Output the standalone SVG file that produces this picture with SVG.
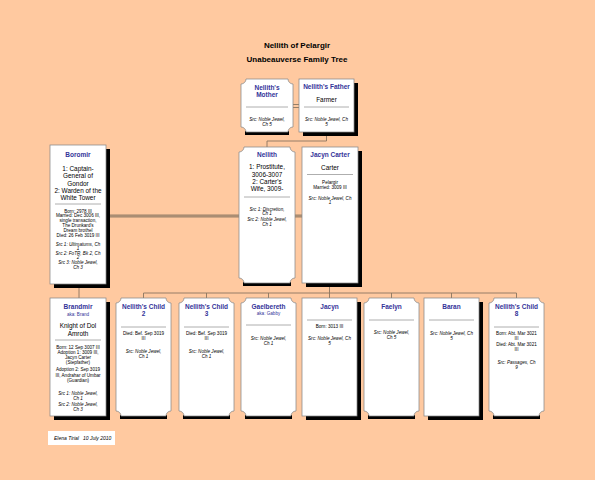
<svg xmlns="http://www.w3.org/2000/svg" width="595" height="480" viewBox="0 0 595 480">
<style>
text{font-family:"Liberation Sans",Arial,sans-serif;text-anchor:middle;fill:#000}
.t{font-size:8px;font-weight:bold}
.n{font-size:6.5px;font-weight:bold;fill:#333399}
.o{font-size:6.4px}
.s{font-size:4.6px}
.i{font-size:4.6px;font-style:italic}
.a{font-size:4.6px;fill:#333399}
.box{fill:#fff;stroke:#888;stroke-width:0.75}
.sh{fill:#000}
.dv{stroke:#999;stroke-width:0.8}
.ln{stroke:#8a7560;stroke-width:0.9;fill:none}
.mar{stroke:#9c8269;stroke-width:3;fill:none}
.mar2{stroke:#c09f84;stroke-width:0.8;fill:none}
</style>
<rect width="595" height="480" fill="#FFC9A0"/>
<text class="t" x="297" y="48">Nellith of Pelargir</text>
<text class="t" x="297" y="62">Unabeauverse Family Tree</text>

<g id="connectors">
<line class="ln" x1="293" y1="104.5" x2="299" y2="104.5"/>
<line class="ln" x1="293" y1="107.5" x2="299" y2="107.5"/>
<polyline class="ln" points="326.5,132 326.5,141 267,141 267,147"/>
<line class="mar" x1="106" y1="216" x2="239" y2="216"/>
<line class="mar2" x1="106" y1="216" x2="239" y2="216"/>
<line class="mar" x1="295" y1="216" x2="302" y2="216"/>
<line class="mar2" x1="295" y1="216" x2="302" y2="216"/>
<line class="ln" x1="79" y1="284" x2="79" y2="298"/>
<line class="ln" x1="329.5" y1="283" x2="329.5" y2="293"/>
<line class="ln" x1="143.5" y1="293" x2="516.5" y2="293"/>
<line class="ln" x1="143.5" y1="293" x2="143.5" y2="298"/>
<line class="ln" x1="206.5" y1="293" x2="206.5" y2="298"/>
<line class="ln" x1="268.5" y1="293" x2="268.5" y2="298"/>
<line class="ln" x1="329.5" y1="293" x2="329.5" y2="298"/>
<line class="ln" x1="391.5" y1="293" x2="391.5" y2="298"/>
<line class="ln" x1="451.5" y1="293" x2="451.5" y2="298"/>
<line class="ln" x1="516.5" y1="293" x2="516.5" y2="298"/>
</g>

<g id="mother">
<rect class="sh" x="245" y="131" width="44" height="4"/>
<path class="box" d="M246,79 H288 A5,5 0 0 0 293,84 V127 A5,5 0 0 0 288,132 H246 A5,5 0 0 0 241,127 V84 A5,5 0 0 0 246,79 Z"/>
<text class="n" x="267" y="89.5">Nellith's</text>
<text class="n" x="267" y="96.5">Mother</text>
<line class="dv" x1="246" y1="107" x2="288" y2="107"/>
<text class="i" x="267" y="120.5">Src: Noble Jewel,</text>
<text class="i" x="267" y="125.5">Ch 5</text>
</g>

<g id="father">
<rect class="sh" x="303" y="83" width="55" height="53"/>
<rect class="box" x="299" y="79" width="55" height="53"/>
<text class="n" x="326.5" y="88.5">Nellith's Father</text>
<text class="o" x="326.5" y="102">Farmer</text>
<line class="dv" x1="304" y1="107" x2="349" y2="107"/>
<text class="i" x="326.5" y="120.5">Src: Noble Jewel, Ch</text>
<text class="i" x="326.5" y="125.5">5</text>
</g>

<g id="boromir">
<rect class="sh" x="54" y="149" width="56" height="139"/>
<rect class="box" x="50" y="145" width="56" height="139"/>
<text class="n" x="78" y="157.3">Boromir</text>
<text class="o" x="78" y="171">1: Captain-</text>
<text class="o" x="78" y="178.3">General of</text>
<text class="o" x="78" y="185.6">Gondor</text>
<text class="o" x="78" y="192.9">2: Warden of the</text>
<text class="o" x="78" y="200.2">White Tower</text>
<line class="dv" x1="55" y1="204" x2="101" y2="204"/>
<text class="s" x="78" y="212.6">Born: 2978 III</text>
<text class="s" x="78" y="217.4">Married: Dec 3006 III,</text>
<text class="s" x="78" y="222.2">single transaction,</text>
<text class="s" x="78" y="227">The Drunkard's</text>
<text class="s" x="78" y="231.8">Dream brothel</text>
<text class="s" x="78" y="236.6">Died: 26 Feb 3019 III</text>
<text class="i" x="78" y="245.6">Src 1: Ultimatums, Ch</text>
<text class="i" x="78" y="250.2">1</text>
<text class="i" x="78" y="254.8">Src 2: FoTR, Bk 2, Ch</text>
<text class="i" x="78" y="259.4">2</text>
<text class="i" x="78" y="264">Src 3: Noble Jewel,</text>
<text class="i" x="78" y="268.6">Ch 3</text>
</g>

<g id="nellith">
<rect class="sh" x="243" y="282" width="48" height="4"/>
<path class="box" d="M244,147 H290 A5,5 0 0 0 295,152 V278 A5,5 0 0 0 290,283 H244 A5,5 0 0 0 239,278 V152 A5,5 0 0 0 244,147 Z"/>
<text class="n" x="267" y="157.3">Nellith</text>
<text class="o" x="267" y="169.2">1: Prostitute,</text>
<text class="o" x="267" y="176.5">3006-3007</text>
<text class="o" x="267" y="183.8">2: Carter's</text>
<text class="o" x="267" y="191.1">Wife, 3009-</text>
<line class="dv" x1="244" y1="197" x2="290" y2="197"/>
<text class="i" x="267" y="210.6">Src 1: Discretion,</text>
<text class="i" x="267" y="215.4">Ch 1</text>
<text class="i" x="267" y="220.8">Src 2: Noble Jewel,</text>
<text class="i" x="267" y="225.6">Ch 1</text>
</g>

<g id="jacyn-carter">
<rect class="sh" x="306" y="151" width="56" height="136"/>
<rect class="box" x="302" y="147" width="56" height="136"/>
<text class="n" x="330" y="157.3">Jacyn Carter</text>
<text class="o" x="330" y="170.2">Carter</text>
<line class="dv" x1="307" y1="174.5" x2="353" y2="174.5"/>
<text class="s" x="330" y="183.6">Pelargir</text>
<text class="s" x="330" y="188.6">Married: 3009 III</text>
<text class="i" x="330" y="199.6">Src: Noble Jewel, Ch</text>
<text class="i" x="330" y="204.4">1</text>
</g>

<g id="brandmir">
<rect class="sh" x="54" y="302" width="56" height="118"/>
<rect class="box" x="50" y="298" width="56" height="118"/>
<text class="n" x="78" y="309.3">Brandmir</text>
<text class="a" x="78" y="315.6">aka: Brand</text>
<text class="o" x="78" y="328.2">Knight of Dol</text>
<text class="o" x="78" y="335.5">Amroth</text>
<line class="dv" x1="55" y1="340" x2="101" y2="340"/>
<text class="s" x="78" y="348.9">Born: 12 Sep 3007 III</text>
<text class="s" x="78" y="353.9">Adoption 1: 3009 III,</text>
<text class="s" x="78" y="359.1">Jacyn Carter</text>
<text class="s" x="78" y="364.1">(Stepfather)</text>
<text class="s" x="78" y="371.4">Adoption 2: Sep 3019</text>
<text class="s" x="78" y="377">III, Andrahar of Umbar</text>
<text class="s" x="78" y="382.4">(Guardian)</text>
<text class="i" x="78" y="395">Src 1: Noble Jewel,</text>
<text class="i" x="78" y="400">Ch 1</text>
<text class="i" x="78" y="406">Src 2: Noble Jewel,</text>
<text class="i" x="78" y="411">Ch 3</text>
</g>

<g id="child2">
<rect class="sh" x="120" y="415" width="47" height="4"/>
<path class="box" d="M121,298 H166 A5,5 0 0 0 171,303 V411 A5,5 0 0 0 166,416 H121 A5,5 0 0 0 116,411 V303 A5,5 0 0 0 121,298 Z"/>
<text class="n" x="143.5" y="309.3">Nellith's Child</text>
<text class="n" x="143.5" y="316.3">2</text>
<line class="dv" x1="121" y1="327" x2="166" y2="327"/>
<text class="s" x="143.5" y="334.9">Died: Bef. Sep 3019</text>
<text class="s" x="143.5" y="339.9">III</text>
<text class="i" x="143.5" y="352.6">Src: Noble Jewel,</text>
<text class="i" x="143.5" y="358">Ch 1</text>
</g>

<g id="child3">
<rect class="sh" x="183" y="415" width="47" height="4"/>
<path class="box" d="M184,298 H229 A5,5 0 0 0 234,303 V411 A5,5 0 0 0 229,416 H184 A5,5 0 0 0 179,411 V303 A5,5 0 0 0 184,298 Z"/>
<text class="n" x="206.5" y="309.3">Nellith's Child</text>
<text class="n" x="206.5" y="316.3">3</text>
<line class="dv" x1="184" y1="327" x2="229" y2="327"/>
<text class="s" x="206.5" y="334.9">Died: Bef. Sep 3019</text>
<text class="s" x="206.5" y="339.9">III</text>
<text class="i" x="206.5" y="352.6">Src: Noble Jewel,</text>
<text class="i" x="206.5" y="358">Ch 1</text>
</g>

<g id="gaelbereth">
<rect class="sh" x="245" y="415" width="47" height="4"/>
<path class="box" d="M246,298 H291 A5,5 0 0 0 296,303 V411 A5,5 0 0 0 291,416 H246 A5,5 0 0 0 241,411 V303 A5,5 0 0 0 246,298 Z"/>
<text class="n" x="268.5" y="309.3">Gaelbereth</text>
<text class="a" x="268.5" y="314.8">aka: Gabby</text>
<line class="dv" x1="246" y1="325" x2="291" y2="325"/>
<text class="i" x="268.5" y="339.6">Src: Noble Jewel,</text>
<text class="i" x="268.5" y="344.6">Ch 1</text>
</g>

<g id="jacyn">
<rect class="sh" x="306" y="302" width="55" height="118"/>
<rect class="box" x="302" y="298" width="55" height="118"/>
<text class="n" x="329.5" y="309.3">Jacyn</text>
<line class="dv" x1="307" y1="320" x2="352" y2="320"/>
<text class="s" x="329.5" y="327.6">Born: 3013 III</text>
<text class="i" x="329.5" y="339.6">Src: Noble Jewel, Ch</text>
<text class="i" x="329.5" y="344.6">5</text>
</g>

<g id="faelyn">
<rect class="sh" x="368" y="415" width="47" height="4"/>
<path class="box" d="M369,298 H414 A5,5 0 0 0 419,303 V411 A5,5 0 0 0 414,416 H369 A5,5 0 0 0 364,411 V303 A5,5 0 0 0 369,298 Z"/>
<text class="n" x="391.5" y="309.3">Faelyn</text>
<line class="dv" x1="369" y1="320" x2="414" y2="320"/>
<text class="i" x="391.5" y="333.9">Src: Noble Jewel,</text>
<text class="i" x="391.5" y="339">Ch 5</text>
</g>

<g id="baran">
<rect class="sh" x="428" y="302" width="55" height="118"/>
<rect class="box" x="424" y="298" width="55" height="118"/>
<text class="n" x="451.5" y="309.3">Baran</text>
<line class="dv" x1="429" y1="320" x2="474" y2="320"/>
<text class="i" x="451.5" y="334.6">Src: Noble Jewel, Ch</text>
<text class="i" x="451.5" y="339.6">5</text>
</g>

<g id="child8">
<rect class="sh" x="493" y="415" width="47" height="4"/>
<path class="box" d="M494,298 H539 A5,5 0 0 0 544,303 V411 A5,5 0 0 0 539,416 H494 A5,5 0 0 0 489,411 V303 A5,5 0 0 0 494,298 Z"/>
<text class="n" x="516.5" y="309.3">Nellith's Child</text>
<text class="n" x="516.5" y="315.8">8</text>
<line class="dv" x1="494" y1="327" x2="539" y2="327"/>
<text class="s" x="516.5" y="334.9">Born: Abt. Mar 3021</text>
<text class="s" x="516.5" y="339.9">III</text>
<text class="s" x="516.5" y="345.9">Died: Abt. Mar 3021</text>
<text class="s" x="516.5" y="351.3">III</text>
<text class="i" x="516.5" y="363.9">Src: Passages, Ch</text>
<text class="i" x="516.5" y="368.9">9</text>
</g>

<g id="footer">
<rect x="48" y="431" width="67" height="14" fill="#fff"/>
<text class="i" style="font-size:5px;text-anchor:start" x="54" y="440">Elena Tirial</text>
<text class="i" style="font-size:5px;text-anchor:start" x="83" y="440">10 July 2010</text>
</g>
</svg>
